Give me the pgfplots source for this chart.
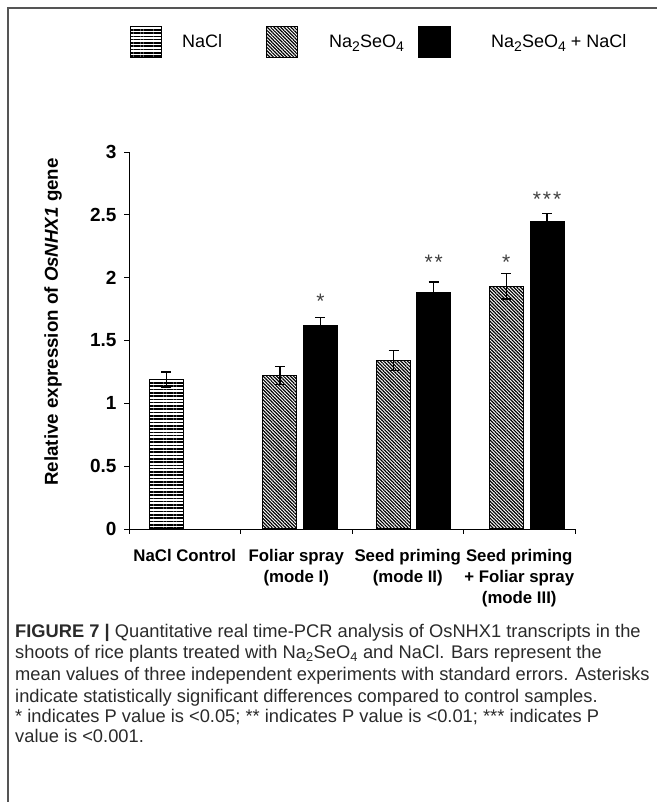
\documentclass[border=0pt]{standalone}
\usepackage{fontspec}
\setmainfont{Liberation Sans}
\usepackage{pgfplots}
\pgfplotsset{compat=1.18}
\usetikzlibrary{patterns.meta}

\definecolor{framegray}{HTML}{555555}
\definecolor{capgray}{HTML}{2A2A2A}
\definecolor{stargray}{HTML}{404040}

% x: bar centre on a 0..4 category scale, y: mean, e: standard error
\pgfplotstableread{
x     y     e
0.336 1.19  0.06
}\nacl
\pgfplotstableread{
x     y     e
1.354 1.22  0.07
2.374 1.34  0.08
3.384 1.93  0.10
}\selenate
\pgfplotstableread{
x     y     e
1.717 1.62  0.06
2.733 1.88  0.085
3.749 2.45  0.06
}\both

\tikzset{
  hlines/.style={pattern={Lines[angle=0,distance=3.3pt,line width=1.6pt]}, pattern color=black},
  dlines/.style={pattern={Lines[angle=-45,distance=2.4pt,line width=1.2pt]}, pattern color=black},
}

\newcommand\catfont{\fontsize{16.8}{20}\selectfont\bfseries}
\newcommand\legfont{\fontsize{18}{20}\selectfont}
\newcommand\lsub[1]{\raisebox{-0.22em}{\fontsize{14}{14}\selectfont #1}}

\begin{document}
\begin{tikzpicture}[x=1pt,y=1pt]
\path[use as bounding box] (0,0) rectangle (657,802);
\draw[framegray, line width=1.5pt] (8,0) -- (8,794) -- (657,794);

% legend
\draw[black, line width=1pt, hlines] (130,744) rectangle (161.5,775);
\node[anchor=base west, inner sep=0pt, font=\legfont] at (182,754) {NaCl};
\draw[black, line width=1pt, dlines] (266,744) rectangle (297.5,775);
\node[anchor=base west, inner sep=0pt, font=\legfont] at (329,754) {Na\lsub{2}SeO\lsub{4}};
\draw[black, line width=1pt, fill=black] (418.5,744) rectangle (450,775);
\node[anchor=base west, inner sep=0pt, font=\legfont] at (491,754) {Na\lsub{2}SeO\lsub{4} + NaCl};

\begin{axis}[
  at={(129pt,273pt)}, anchor=south west,
  scale only axis, width=446pt, height=377pt,
  xmin=0, xmax=4, ymin=0, ymax=3,
  axis lines=left,
  axis line style={-, line width=0.8pt},
  xtick={0,1,2,3,4}, xticklabels={},
  ytick={0,0.5,1,1.5,2,2.5,3},
  yticklabels={0,0.5,1,1.5,2,2.5,3},
  tick align=outside, major tick length=5pt,
  tick style={black, line width=0.8pt},
  yticklabel style={font=\fontsize{19}{20}\selectfont\bfseries, xshift=-4pt},
  clip=false,
  error bars/error bar style={black, line width=1.2pt},
  error bars/error mark options={rotate=90, mark size=5pt, line width=1.2pt, black},
]
\addplot[ybar, bar width=34pt, bar shift=0pt, draw=black, line width=1pt, hlines,
  error bars/.cd, y dir=both, y explicit]
  table[x=x, y=y, y error=e] {\nacl};
\addplot[ybar, bar width=34pt, bar shift=0pt, draw=black, line width=1pt, dlines,
  error bars/.cd, y dir=both, y explicit]
  table[x=x, y=y, y error=e] {\selenate};
\addplot[ybar, bar width=34pt, bar shift=0pt, draw=black, line width=1pt, fill=black,
  error bars/.cd, y dir=both, y explicit]
  table[x=x, y=y, y error=e] {\both};

% significance marks
\node[anchor=base, text=stargray, font=\fontsize{21}{22}\selectfont, yshift=-12pt] at (axis cs:1.717,1.854) {*};
\node[anchor=base, text=stargray, font=\fontsize{21}{22}\selectfont, yshift=-12pt] at (axis cs:2.733,2.157) {*\hspace{2pt}*};
\node[anchor=base, text=stargray, font=\fontsize{21}{22}\selectfont, yshift=-12pt] at (axis cs:3.384,2.157) {*};
\node[anchor=base, text=stargray, font=\fontsize{21}{22}\selectfont, yshift=-12pt] at (axis cs:3.749,2.658) {*\hspace{2pt}*\hspace{2pt}*};

% category names
\node[anchor=base, font=\catfont] at (axis cs:0.5,0) [yshift=-33pt] {NaCl Control};
\node[anchor=base, font=\catfont] at (axis cs:1.5,0) [yshift=-33pt] {Foliar spray};
\node[anchor=base, font=\catfont] at (axis cs:1.5,0) [yshift=-54pt] {(mode I)};
\node[anchor=base, font=\catfont] at (axis cs:2.5,0) [yshift=-33pt] {Seed priming};
\node[anchor=base, font=\catfont] at (axis cs:2.5,0) [yshift=-54pt] {(mode II)};
\node[anchor=base, font=\catfont] at (axis cs:3.5,0) [yshift=-33pt] {Seed priming};
\node[anchor=base, font=\catfont] at (axis cs:3.5,0) [yshift=-54pt] {+ Foliar spray};
\node[anchor=base, font=\catfont] at (axis cs:3.5,0) [yshift=-75pt] {(mode III)};
\end{axis}

% y axis title
\node[rotate=90, font=\fontsize{18.7}{20}\selectfont\bfseries] at (53,480) {Relative expression of \textit{OsNHX1} gene};

% caption
\begin{scope}[every node/.style={anchor=base west, inner sep=0pt, text=capgray, font=\fontsize{18.3}{21}\selectfont}]
\node at (15,164) {\textbf{FIGURE 7 |} Quantitative real time-PCR analysis of OsNHX1 transcripts in the};
\node at (15,143) {shoots of rice plants treated with Na\textsubscript{2}SeO\textsubscript{4} and NaCl. Bars represent the};
\node at (15,121) {mean values of three independent experiments with standard errors. Asterisks};
\node at (15,99) {indicate statistically significant differences compared to control samples.};
\node at (15,79) {* indicates P value is <0.05; ** indicates P value is <0.01; *** indicates P};
\node at (15,59) {value is <0.001.};
\end{scope}
\end{tikzpicture}
\end{document}
